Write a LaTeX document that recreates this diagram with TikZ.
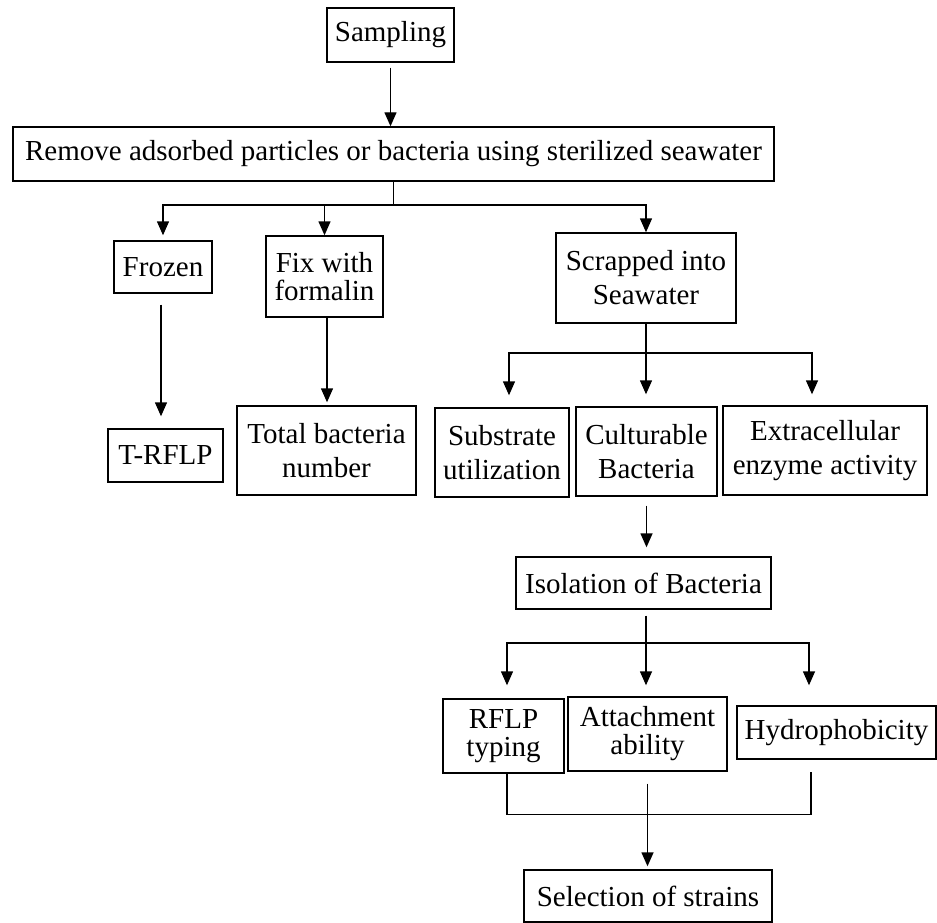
\documentclass[tikz,border=0pt]{standalone}
\usepackage{fontspec}
\setmainfont{Liberation Serif}
\usetikzlibrary{arrows.meta,positioning}

\tikzset{
  box/.style={draw, line width=1.4pt, inner sep=0pt, align=center,
    font=\fontsize{29}{34}\selectfont},
  tight/.style={font=\fontsize{29}{28}\selectfont},
  link/.style={line width=1.4pt},
  arr/.style={line width=1.4pt, -{Triangle[length=14pt,width=12pt]}}
}

\begin{document}
\begin{tikzpicture}[x=1pt,y=-1pt]
    \useasboundingbox (0,0) rectangle (937,923);

    % Boxes
    \node[box, minimum width=127pt, minimum height=54pt] (samp) at (390.5,35) {Sampling};
    \node[box, minimum width=761pt, minimum height=54pt] (remove) at (393.5,154)
        {Remove adsorbed particles or bacteria using sterilized seawater};
    \node[box, minimum width=98pt, minimum height=52pt] (frozen) at (163,267) {Frozen};
    \node[box, tight, minimum width=117pt, minimum height=81pt] (fix) at (324.5,276.5) {Fix with\\formalin};
    \node[box, minimum width=180pt, minimum height=90pt] (scrap) at (646,278) {Scrapped into\\Seawater};
    \node[box, minimum width=115pt, minimum height=53pt] (trflp) at (165.5,455.5) {T-RFLP};
    \node[box, minimum width=179pt, minimum height=89pt] (total) at (326.5,450.5) {Total bacteria\\number};
    \node[box, minimum width=134pt, minimum height=89pt] (subs) at (502,452.5) {Substrate\\utilization};
    \node[box, minimum width=141pt, minimum height=89pt] (cult) at (646.5,451.5) {Culturable\\Bacteria};
    \node[box, minimum width=204pt, minimum height=89pt] (extra) at (825,450.5) {Extracellular\\enzyme activity};
    \node[box, minimum width=255pt, minimum height=52pt] (isol) at (643.5,583) {Isolation of Bacteria};
    \node[box, tight, minimum width=121pt, minimum height=74pt] (rflp) at (503.5,736) {RFLP\\typing};
    \node[box, tight, minimum width=159pt, minimum height=74pt] (attach) at (647.5,734) {Attachment\\ability};
    \node[box, minimum width=199pt, minimum height=53pt] (hydro) at (836.5,732.5) {Hydrophobicity};
    \node[box, minimum width=248pt, minimum height=52pt] (select) at (648,896) {Selection of strains};

    % Split points
    \coordinate (split1) at (393.5,205);
    \coordinate (split2) at (646,353);
    \coordinate (split3) at (646,643);

    % Arrows
    \draw[arr, shorten <=5pt] (samp.south) -- (samp.south |- remove.north);
    \draw[link] (remove.south) -- (split1);
    \draw[arr, shorten >=5pt] (split1) -| (frozen.north);
    \draw[arr] (split1) -| (fix.north);
    \draw[arr] (split1) -| (scrap.north);
    \draw[arr, shorten <=11pt, shorten >=12pt] ([xshift=-2pt]frozen.south) -- ([xshift=-2pt]frozen.south |- trflp.north);
    \draw[arr, shorten >=3pt] ([xshift=2.5pt]fix.south) -- ([xshift=2.5pt]fix.south |- total.north);
    \draw[link] (scrap.south) -- (split2);
    \draw[arr, shorten >=12pt] (split2) -| ([xshift=7pt]subs.north);
    \draw[arr, shorten >=12pt] (split2) -- (split2 |- cult.north);
    \draw[arr, shorten >=11pt] (split2) -| ([xshift=-13pt]extra.north);
    \draw[arr, shorten <=9pt, shorten >=9pt] (cult.south) -- (cult.south |- isol.north);
    \draw[link, shorten <=6pt] ([xshift=2.5pt]isol.south) -- (split3);
    \draw[arr, shorten >=13pt] (split3) -| ([xshift=3.5pt]rflp.north);
    \draw[arr, shorten >=11pt] (split3) -- (split3 |- attach.north);
    \draw[arr, shorten >=20pt] (split3) -| ([xshift=-27.5pt]hydro.north);

    % Merge to selection
    \draw[link] ([xshift=3.5pt]rflp.south) -- ++(0,41) -| ([xshift=-25.5pt,yshift=-12pt]hydro.south);
    \draw[arr, shorten <=12pt, shorten >=3pt] (attach.south) -- (attach.south |- select.north);
\end{tikzpicture}
\end{document}
